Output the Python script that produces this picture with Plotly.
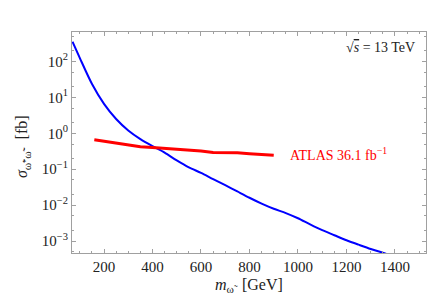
import plotly.graph_objects as go

# Blue: theory cross section (fb) vs mass (GeV)
blue_mass = [70, 100, 150, 200, 250, 300, 350, 400, 450, 500, 550, 600, 650, 700, 750,
             800, 850, 900, 950, 1000, 1050, 1100, 1150, 1200, 1250, 1300, 1350, 1400]
blue_sigma = [355, 126, 24, 6.6, 2.5, 1.2, 0.69, 0.44, 0.29, 0.175, 0.112, 0.079, 0.053,
              0.036, 0.024, 0.016, 0.011, 0.0079, 0.0060, 0.0043, 0.0029, 0.0020, 0.00145,
              0.00105, 0.00079, 0.00060, 0.00047, 0.00036]

# Red: ATLAS 36.1 fb^-1 limit
red_mass = [160, 200, 250, 300, 350, 400, 450, 500, 550, 600, 650, 700, 750, 800, 850, 900]
red_sigma = [0.66, 0.60, 0.54, 0.47, 0.42, 0.40, 0.38, 0.355, 0.33, 0.32, 0.29, 0.29,
             0.285, 0.27, 0.26, 0.245]

x_ticks = [200, 400, 600, 800, 1000, 1200, 1400]
y_tickvals = [1e-3, 1e-2, 1e-1, 1e0, 1e1, 1e2]
y_ticktext = ["10<sup>−3</sup>", "10<sup>−2</sup>", "10<sup>−1</sup>",
              "10<sup>0</sup>", "10<sup>1</sup>", "10<sup>2</sup>"]

FONT = "Liberation Serif"
FRAME = "#a0a0a0"

fig = go.Figure()
fig.add_trace(go.Scatter(x=blue_mass, y=blue_sigma, mode="lines",
                         line=dict(color="#0000ff", width=2, shape="spline", smoothing=0.8),
                         showlegend=False))
fig.add_trace(go.Scatter(x=red_mass, y=red_sigma, mode="lines",
                         line=dict(color="#ff0000", width=3), showlegend=False))

fig.update_layout(
    width=443, height=300,
    margin=dict(l=64, r=25, t=24, b=55),
    paper_bgcolor="white", plot_bgcolor="white",
    font=dict(family=FONT, size=15, color="#222222"),
    xaxis=dict(range=[68, 1528], tickvals=x_ticks, ticks="inside", ticklen=4,
               tickcolor=FRAME, showline=True, linecolor=FRAME, linewidth=1,
               mirror="ticks", showgrid=False, zeroline=False,
               minor=dict(dtick=50, tick0=0, ticks="inside", ticklen=2, tickcolor=FRAME),
               tickfont=dict(size=15)),
    yaxis=dict(type="log", range=[-3.334, 2.82], tickvals=y_tickvals, ticktext=y_ticktext,
               ticks="inside", ticklen=4, tickcolor=FRAME, showline=True, linecolor=FRAME,
               linewidth=1, mirror="ticks", showgrid=False, zeroline=False,
               minor=dict(ticks="inside", ticklen=2, tickcolor=FRAME),
               tickfont=dict(size=15)),
    annotations=[
        dict(text="ATLAS 36.1 fb<sup>−1</sup>", x=959, y=-0.58, xref="x", yref="y",
             xanchor="left", yanchor="middle", showarrow=False,
             font=dict(color="#ff0000", size=14, family=FONT)),
        dict(text="√<span style='text-decoration:overline'><i>s</i></span> = 13 TeV",
             x=0.975, y=0.928, xref="paper", yref="paper",
             xanchor="right", yanchor="middle", showarrow=False,
             font=dict(size=14, family=FONT, color="#222222")),
        dict(text="<i>m</i><sub>ω̃</sub>&nbsp; [GeV]", x=0.5, y=-0.145, xref="paper", yref="paper",
             xanchor="center", yanchor="middle", showarrow=False,
             font=dict(size=16, family=FONT, color="#222222")),
        dict(text="<i>σ</i><sub>ω̃⁺ω̃⁻</sub>&nbsp; [fb]", x=-0.138, y=0.48, xref="paper", yref="paper",
             xanchor="center", yanchor="middle", showarrow=False, textangle=-90,
             font=dict(size=16, family=FONT, color="#222222")),
    ],
)

fig.write_html("out.html")
